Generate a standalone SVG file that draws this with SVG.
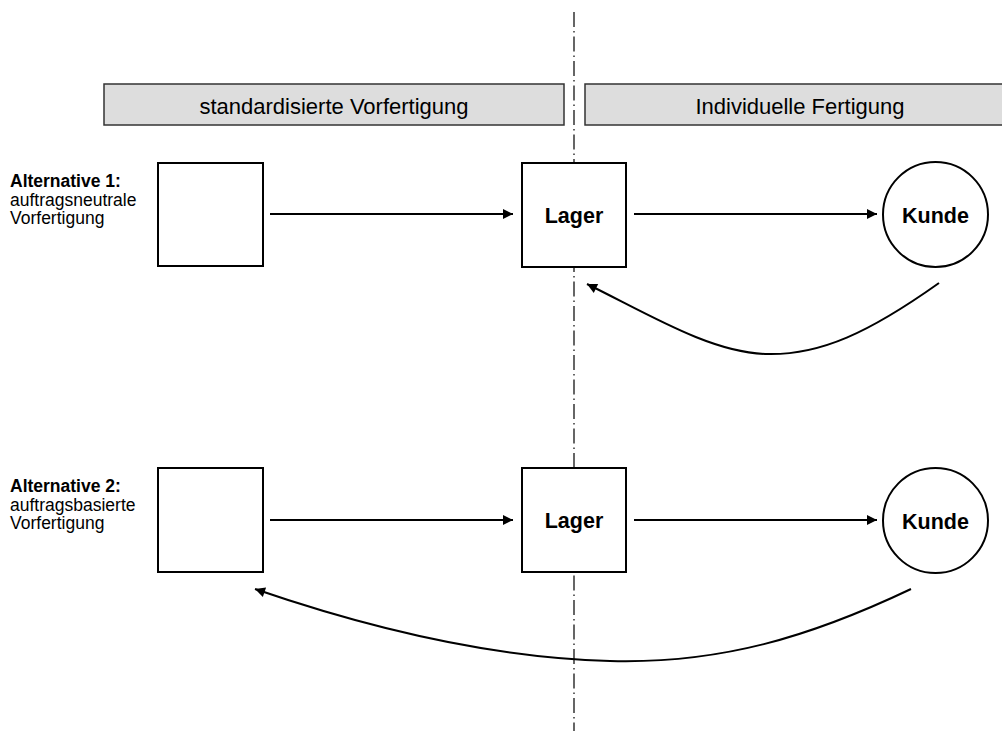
<svg xmlns="http://www.w3.org/2000/svg" width="1002" height="731" viewBox="0 0 1002 731">
<style>
.hdr{fill:#dddddd;stroke:#333;stroke-width:1.5}
.node{fill:#fff;stroke:#000;stroke-width:2}
.ht{font-family:"Liberation Sans",Arial,sans-serif;font-size:22px;fill:#000;text-anchor:middle}
.nt{font-family:"Liberation Sans",Arial,sans-serif;font-size:21.5px;font-weight:bold;fill:#000;text-anchor:middle}
.lb{font-family:"Liberation Sans",Arial,sans-serif;font-size:17.5px;fill:#000}
.lbb{font-weight:bold}
.conn{fill:none;stroke:#000;stroke-width:2}
.axis{stroke:#000;stroke-width:1.2;stroke-dasharray:15 4 1.5 4}
</style>
<defs>
<marker id="ah" viewBox="0 0 10 10" refX="10" refY="5" markerWidth="6" markerHeight="5" markerUnits="strokeWidth" orient="auto">
<path d="M0,0 L10,5 L0,10 z" fill="#000"/>
</marker>
</defs>
<rect width="1002" height="731" fill="#fff"/>
<line class="axis" x1="574" y1="12" x2="574" y2="731"/>
<g id="hdr-left"><rect class="hdr" x="104" y="84" width="460" height="41"/><text class="ht" x="334" y="114">standardisierte Vorfertigung</text></g>
<g id="hdr-right"><rect class="hdr" x="585" y="84" width="430" height="41"/><text class="ht" x="800" y="114">Individuelle Fertigung</text></g>
<g id="label1"><text class="lb" x="10"><tspan class="lbb" x="10" y="187">Alternative 1:</tspan><tspan x="10" y="205.5">auftragsneutrale</tspan><tspan x="10" y="224">Vorfertigung</tspan></text></g>
<g id="label2"><text class="lb" x="10"><tspan class="lbb" x="10" y="492">Alternative 2:</tspan><tspan x="10" y="510.5">auftragsbasierte</tspan><tspan x="10" y="529">Vorfertigung</tspan></text></g>
<g id="pre1"><rect class="node" x="158" y="163" width="105" height="103"/></g>
<g id="lager1"><rect class="node" x="522" y="163" width="104" height="104"/><text class="nt" x="574" y="223">Lager</text></g>
<g id="kunde1"><circle class="node" cx="935.5" cy="214.5" r="52.5"/><text class="nt" x="935.5" y="223">Kunde</text></g>
<g id="pre2"><rect class="node" x="158" y="468" width="105" height="104"/></g>
<g id="lager2"><rect class="node" x="522" y="468" width="104" height="104"/><text class="nt" x="574" y="528">Lager</text></g>
<g id="kunde2"><circle class="node" cx="935.5" cy="520.5" r="52.5"/><text class="nt" x="935.5" y="529">Kunde</text></g>
<g id="connectors">
<line class="conn" x1="270" y1="214" x2="513" y2="214" marker-end="url(#ah)"/>
<line class="conn" x1="634" y1="214" x2="877" y2="214" marker-end="url(#ah)"/>
<path class="conn" d="M939,283 C870,332 820,356 765,354 C710,352 650,315 587,284" marker-end="url(#ah)"/>
<line class="conn" x1="270" y1="520" x2="513" y2="520" marker-end="url(#ah)"/>
<line class="conn" x1="634" y1="520" x2="877" y2="520" marker-end="url(#ah)"/>
<path class="conn" d="M911,589 C810,637 720,664 610,661 C500,658 380,632 255,589" marker-end="url(#ah)"/>
</g>
</svg>
